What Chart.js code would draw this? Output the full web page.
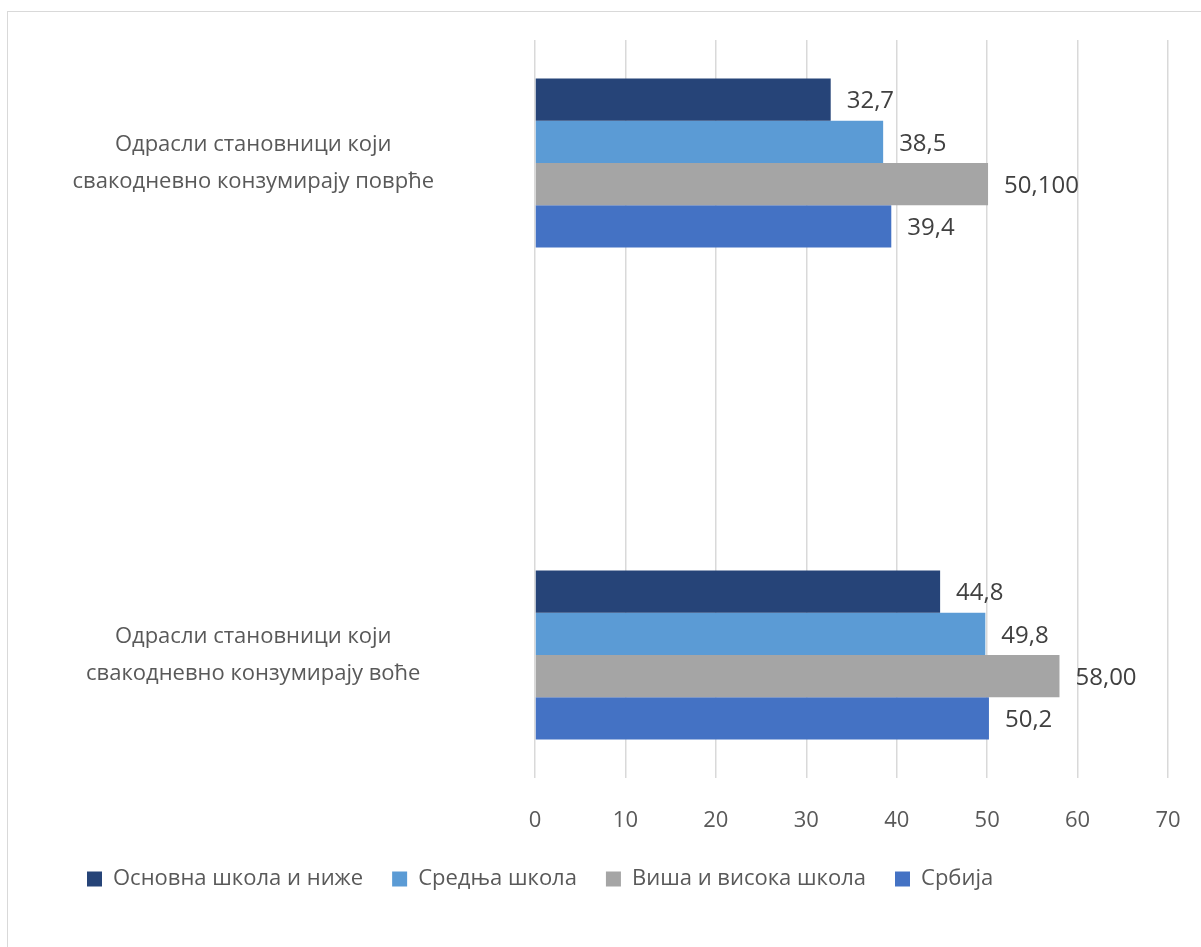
<!DOCTYPE html>
<html>
<head>
<meta charset="utf-8">
<script src="https://cdn.jsdelivr.net/npm/chart.js@4/dist/chart.umd.min.js"></script>
<style>
  html, body { margin: 0; padding: 0; background: #fff; overflow: hidden; }
  #frame { position: absolute; left: 7px; top: 11px; width: 1300px; height: 1000px; border: 1px solid #d9d9d9; }
  #wrap { position: absolute; left: 0; top: 0; width: 1201px; height: 947px; }
</style>
</head>
<body>
<div id="frame"></div>
<div id="wrap"><canvas id="chart"></canvas></div>
<script>
// kategorije (dva reda teksta po kategoriji)
const categories = [
  ["Одрасли становници који", "свакодневно конзумирају поврће"],
  ["Одрасли становници који", "свакодневно конзумирају воће"]
];
const seriesNames = ["Основна школа и ниже", "Средња школа", "Виша и висока школа", "Србија"];

const osnovna = [32.7, 44.8];
const srednja = [38.5, 49.8];
const visa = [50.1, 58.0];
const srbija = [39.4, 50.2];

// natpisi na stubićima, kako stoje na slici
const osnovnaLabels = ["32,7", "44,8"];
const srednjaLabels = ["38,5", "49,8"];
const visaLabels = ["50,100", "58,00"];
const srbijaLabels = ["39,4", "50,2"];

const xTicks = [0, 10, 20, 30, 40, 50, 60, 70];

const colors = ["#264478", "#5b9bd5", "#a5a5a5", "#4472c4"];
const fontFamily = '"Open Sans", "Noto Sans", sans-serif';

const padLeft = 58;
const padBottom = 47;
const plotLeft = 535;
const plotBottom = 778;

function toPoints(values) {
  return values.map((v, i) => ({ x: v, y: i }));
}

const valueLabelPlugin = {
  id: "valueLabels",
  afterDatasetsDraw(chart) {
    const ctx = chart.ctx;
    ctx.save();
    ctx.font = "24px " + fontFamily;
    ctx.fillStyle = "#404040";
    ctx.textAlign = "left";
    ctx.textBaseline = "middle";
    chart.data.datasets.forEach((ds, i) => {
      chart.getDatasetMeta(i).data.forEach((bar, j) => {
        ctx.fillText(ds.valueLabels[j], bar.x + 16, bar.y + 2);
      });
    });
    ctx.restore();
  }
};

const datasets = [
  [osnovna, osnovnaLabels],
  [srednja, srednjaLabels],
  [visa, visaLabels],
  [srbija, srbijaLabels]
].map(([values, labels], i) => ({
  label: seriesNames[i],
  data: toPoints(values),
  valueLabels: labels,
  backgroundColor: colors[i],
  borderWidth: 0,
  categoryPercentage: 0.344,
  barPercentage: 1
}));

const ctx = document.getElementById("chart").getContext("2d");
new Chart(ctx, {
  type: "bar",
  data: { datasets },
  options: {
    indexAxis: "y",
    responsive: true,
    maintainAspectRatio: false,
    animation: false,
    layout: { padding: { top: 40, right: 33, left: padLeft, bottom: padBottom } },
    plugins: {
      tooltip: { enabled: false },
      legend: {
        position: "bottom",
        align: "start",
        labels: {
          color: "#595959",
          font: { family: fontFamily, size: 22 },
          boxWidth: 15,
          boxHeight: 15,
          padding: 29
        }
      }
    },
    scales: {
      x: {
        type: "linear",
        min: 0,
        max: 70,
        afterBuildTicks: (scale) => { scale.ticks = xTicks.map(v => ({ value: v })); },
        afterFit: (scale) => {
          const c = scale.chart;
          scale.height = c.height - padBottom - c.legend.height - plotBottom;
        },
        grid: { color: "#d9d9d9", lineWidth: 1.5, drawTicks: true, tickLength: 26, tickColor: "rgba(0,0,0,0)" },
        border: { display: false },
        ticks: {
          color: "#595959",
          font: { family: fontFamily, size: 22 },
          padding: 4
        }
      },
      y: {
        type: "linear",
        reverse: true,
        offset: false,
        bounds: "data",
        min: -0.25,
        max: 1.25,
        afterBuildTicks: (scale) => {
          // jedna oznaka po kategoriji
          scale.ticks = categories.map((c, i) => ({ value: i }));
        },
        afterFit: (scale) => { scale.width = plotLeft - padLeft; },
        grid: { display: false, offset: false, drawTicks: true, tickLength: 101 },
        border: { display: false },
        ticks: {
          color: "#595959",
          font: { family: fontFamily, size: 22, lineHeight: 1.7 },
          crossAlign: "center",
          padding: 0,
          callback: (v) => categories[v]
        }
      }
    }
  },
  plugins: [valueLabelPlugin]
});
</script>
</body>
</html>
